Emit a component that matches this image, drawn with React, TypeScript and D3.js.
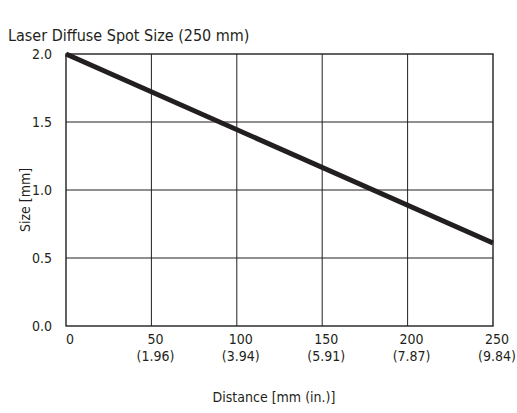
import React, { useRef, useEffect } from "react";
import * as d3 from "d3";

const distances = [0, 250];
const sizes = [2.0, 0.61];

const xTicks = [0, 50, 100, 150, 200, 250];
const xInchLabels = ["", "(1.96)", "(3.94)", "(5.91)", "(7.87)", "(9.84)"];
const yTicks = [0, 0.5, 1.0, 1.5, 2.0];

const WIDTH = 517;
const HEIGHT = 413;
const INK = "#231f20";
const FONT = "'DejaVu Sans Condensed', 'Liberation Sans Narrow', sans-serif";

export default function App() {
  const svgRef = useRef<SVGSVGElement | null>(null);

  useEffect(() => {
    if (!svgRef.current) return;
    const svg = d3.select(svgRef.current);
    svg.selectAll("*").remove();

    const x = d3.scaleLinear().domain([0, 250]).range([66, 493]);
    const y = d3.scaleLinear().domain([0, 2]).range([326, 54]);

    svg
      .append("rect")
      .attr("width", WIDTH)
      .attr("height", HEIGHT)
      .attr("fill", "#ffffff");

    // grid
    const grid = svg.append("g").attr("stroke", INK).attr("stroke-width", 1);
    grid
      .selectAll("line.v")
      .data(xTicks.slice(1, -1))
      .join("line")
      .attr("class", "v")
      .attr("x1", (d) => x(d))
      .attr("x2", (d) => x(d))
      .attr("y1", y(2))
      .attr("y2", y(0));
    grid
      .selectAll("line.h")
      .data(yTicks.slice(1, -1))
      .join("line")
      .attr("class", "h")
      .attr("x1", x(0))
      .attr("x2", x(250))
      .attr("y1", (d) => y(d))
      .attr("y2", (d) => y(d));

    // frame
    svg
      .append("rect")
      .attr("x", x(0))
      .attr("y", y(2))
      .attr("width", x(250) - x(0))
      .attr("height", y(0) - y(2))
      .attr("fill", "none")
      .attr("stroke", INK)
      .attr("stroke-width", 1.4);

    // the line
    const line = d3
      .line<number>()
      .x((_, i) => x(distances[i]))
      .y((d) => y(d));
    svg
      .append("path")
      .datum(sizes)
      .attr("fill", "none")
      .attr("stroke", INK)
      .attr("stroke-width", 5)
      .attr("d", line);

    const text = svg.append("g").attr("fill", INK).style("font-family", FONT);

    // y tick labels
    text
      .selectAll("text.y")
      .data(yTicks)
      .join("text")
      .attr("class", "y")
      .attr("x", 52)
      .attr("y", (d) => y(d))
      .attr("dy", "0.36em")
      .attr("text-anchor", "end")
      .style("font-size", "14px")
      .text((d) => d.toFixed(1));

    // x tick labels (mm + inches)
    const xl = text
      .selectAll("g.x")
      .data(xTicks)
      .join("g")
      .attr("class", "x")
      .attr("transform", (d) => `translate(${x(d) + 4},0)`);
    xl.append("text")
      .attr("y", 344)
      .attr("text-anchor", "middle")
      .style("font-size", "14px")
      .text((d) => String(d));
    xl.append("text")
      .attr("y", 361)
      .attr("text-anchor", "middle")
      .style("font-size", "14px")
      .text((_, i) => xInchLabels[i]);

    // titles
    text
      .append("text")
      .attr("x", 8)
      .attr("y", 41)
      .style("font-size", "16px")
      .text("Laser Diffuse Spot Size (250 mm)");
    text
      .append("text")
      .attr("x", 274)
      .attr("y", 402)
      .attr("text-anchor", "middle")
      .style("font-size", "14px")
      .text("Distance [mm (in.)]");
    text
      .append("text")
      .attr("transform", "translate(30,200) rotate(-90)")
      .attr("text-anchor", "middle")
      .style("font-size", "14px")
      .text("Size [mm]");
  }, []);

  return (
    <svg
      ref={svgRef}
      width={WIDTH}
      height={HEIGHT}
      style={{ position: "absolute", left: 0, top: 0, display: "block" }}
    />
  );
}
